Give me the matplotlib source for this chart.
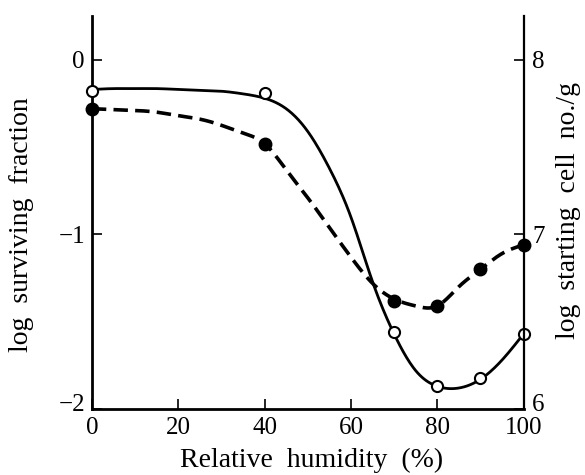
import matplotlib
matplotlib.use("Agg")
import matplotlib.pyplot as plt
import matplotlib.transforms as mtransforms
import numpy as np

# measured points
humidity = [0, 40, 70, 80, 90, 100]
survival_open = [-0.18, -0.19, -1.56, -1.87, -1.82, -1.57]
survival_filled = [-0.28, -0.48, -1.38, -1.41, -1.20, -1.06]

# fitted curves (every 5 % RH)
curve_rh = [0, 5, 10, 15, 20, 25, 30, 35, 40, 45, 50,
            55, 60, 65, 70, 75, 80, 85, 90, 95, 100]
curve_solid = [-0.17, -0.165, -0.165, -0.165, -0.17, -0.175, -0.18, -0.195,
               -0.22, -0.28, -0.41, -0.62, -0.90, -1.27, -1.57, -1.78,
               -1.87, -1.88, -1.83, -1.72, -1.57]
curve_dashed = [-0.28, -0.285, -0.29, -0.30, -0.32, -0.34, -0.375, -0.42,
                -0.48, -0.63, -0.79, -0.96, -1.13, -1.28, -1.37, -1.41,
                -1.41, -1.30, -1.20, -1.11, -1.06]

left_ticks = [0, -1, -2]
right_ticks = [6, 7, 8]
x_ticks = [0, 20, 40, 60, 80, 100]


def spline(x, y, xs):
    # natural cubic spline, just for drawing the fitted line smoothly
    x = np.asarray(x, float)
    y = np.asarray(y, float)
    n = len(x)
    h = np.diff(x)
    A = np.zeros((n, n))
    b = np.zeros(n)
    A[0, 0] = A[-1, -1] = 1
    for i in range(1, n - 1):
        A[i, i - 1] = h[i - 1]
        A[i, i] = 2 * (h[i - 1] + h[i])
        A[i, i + 1] = h[i]
        b[i] = 6 * ((y[i + 1] - y[i]) / h[i] - (y[i] - y[i - 1]) / h[i - 1])
    M = np.linalg.solve(A, b)
    idx = np.clip(np.searchsorted(x, xs) - 1, 0, n - 2)
    x0, x1 = x[idx], x[idx + 1]
    hh = x1 - x0
    t0, t1 = x1 - xs, xs - x0
    return (M[idx] * t0**3 / (6 * hh) + M[idx + 1] * t1**3 / (6 * hh)
            + (y[idx] / hh - M[idx] * hh / 6) * t0
            + (y[idx + 1] / hh - M[idx + 1] * hh / 6) * t1)


plt.rcParams['font.family'] = ['Liberation Serif', 'DejaVu Serif']
tick_fs = 18
label_fs = 20

fig = plt.figure(figsize=(5.85, 4.75), dpi=100)
ax = fig.add_axes([0.157, 0.139, 0.738, 0.827])

xs = np.linspace(0, 100, 400)
ax.plot(xs, spline(curve_rh, curve_solid, xs), color='black', lw=2.0)
ax.plot(xs, spline(curve_rh, curve_dashed, xs), color='black', lw=2.6,
        dashes=(4, 2))
ax.plot(humidity, survival_open, 'o', ms=8, mfc='white', mec='black',
        mew=1.5, clip_on=False, zorder=5)
ax.plot(humidity, survival_filled, 'o', ms=9, mfc='black', mec='black',
        clip_on=False, zorder=5)

ax.set_xlim(0, 100)
ax.set_ylim(-2, 0.25)
ax.set_xticks(x_ticks)
ax.set_yticks(left_ticks)
ax.tick_params(direction='in', length=7, width=1.2, labelsize=tick_fs)
ax.tick_params(axis='x', pad=6)
ax.tick_params(axis='y', pad=5)
ax.spines['top'].set_visible(False)
ax.spines['right'].set_visible(False)
for s in ['left', 'bottom']:
    ax.spines[s].set_linewidth(2.0)
ax.set_xlabel('Relative  humidity  (%)', fontsize=label_fs)
ax.xaxis.set_label_coords(0.5 + (312 - 308) / 432, -0.1)
ax.set_ylabel('log  surviving  fraction', fontsize=label_fs)
ax.yaxis.set_label_coords(-0.134, 0.47)

ax2 = ax.twinx()
ax2.set_ylim(6, 8.25)
ax2.set_yticks(right_ticks)
ax2.tick_params(direction='in', length=7, width=1.2, labelsize=tick_fs, pad=6)
ax2.spines['top'].set_visible(False)
ax2.spines['left'].set_visible(False)
ax2.spines['bottom'].set_visible(False)
ax2.spines['right'].set_linewidth(1.6)
ax2.set_ylabel('log  starting  cell  no./g', fontsize=label_fs)
ax2.yaxis.set_label_coords(1.076, 0.506)

# lowest labels on both vertical axes sit a little above their ticks
lift = mtransforms.ScaledTranslation(0, 0.06, fig.dpi_scale_trans)
fig.canvas.draw()
for lab in (ax.get_yticklabels()[-1], ax2.get_yticklabels()[0]):
    lab.set_transform(lab.get_transform() + lift)

fig.savefig('out.png', dpi=100)
